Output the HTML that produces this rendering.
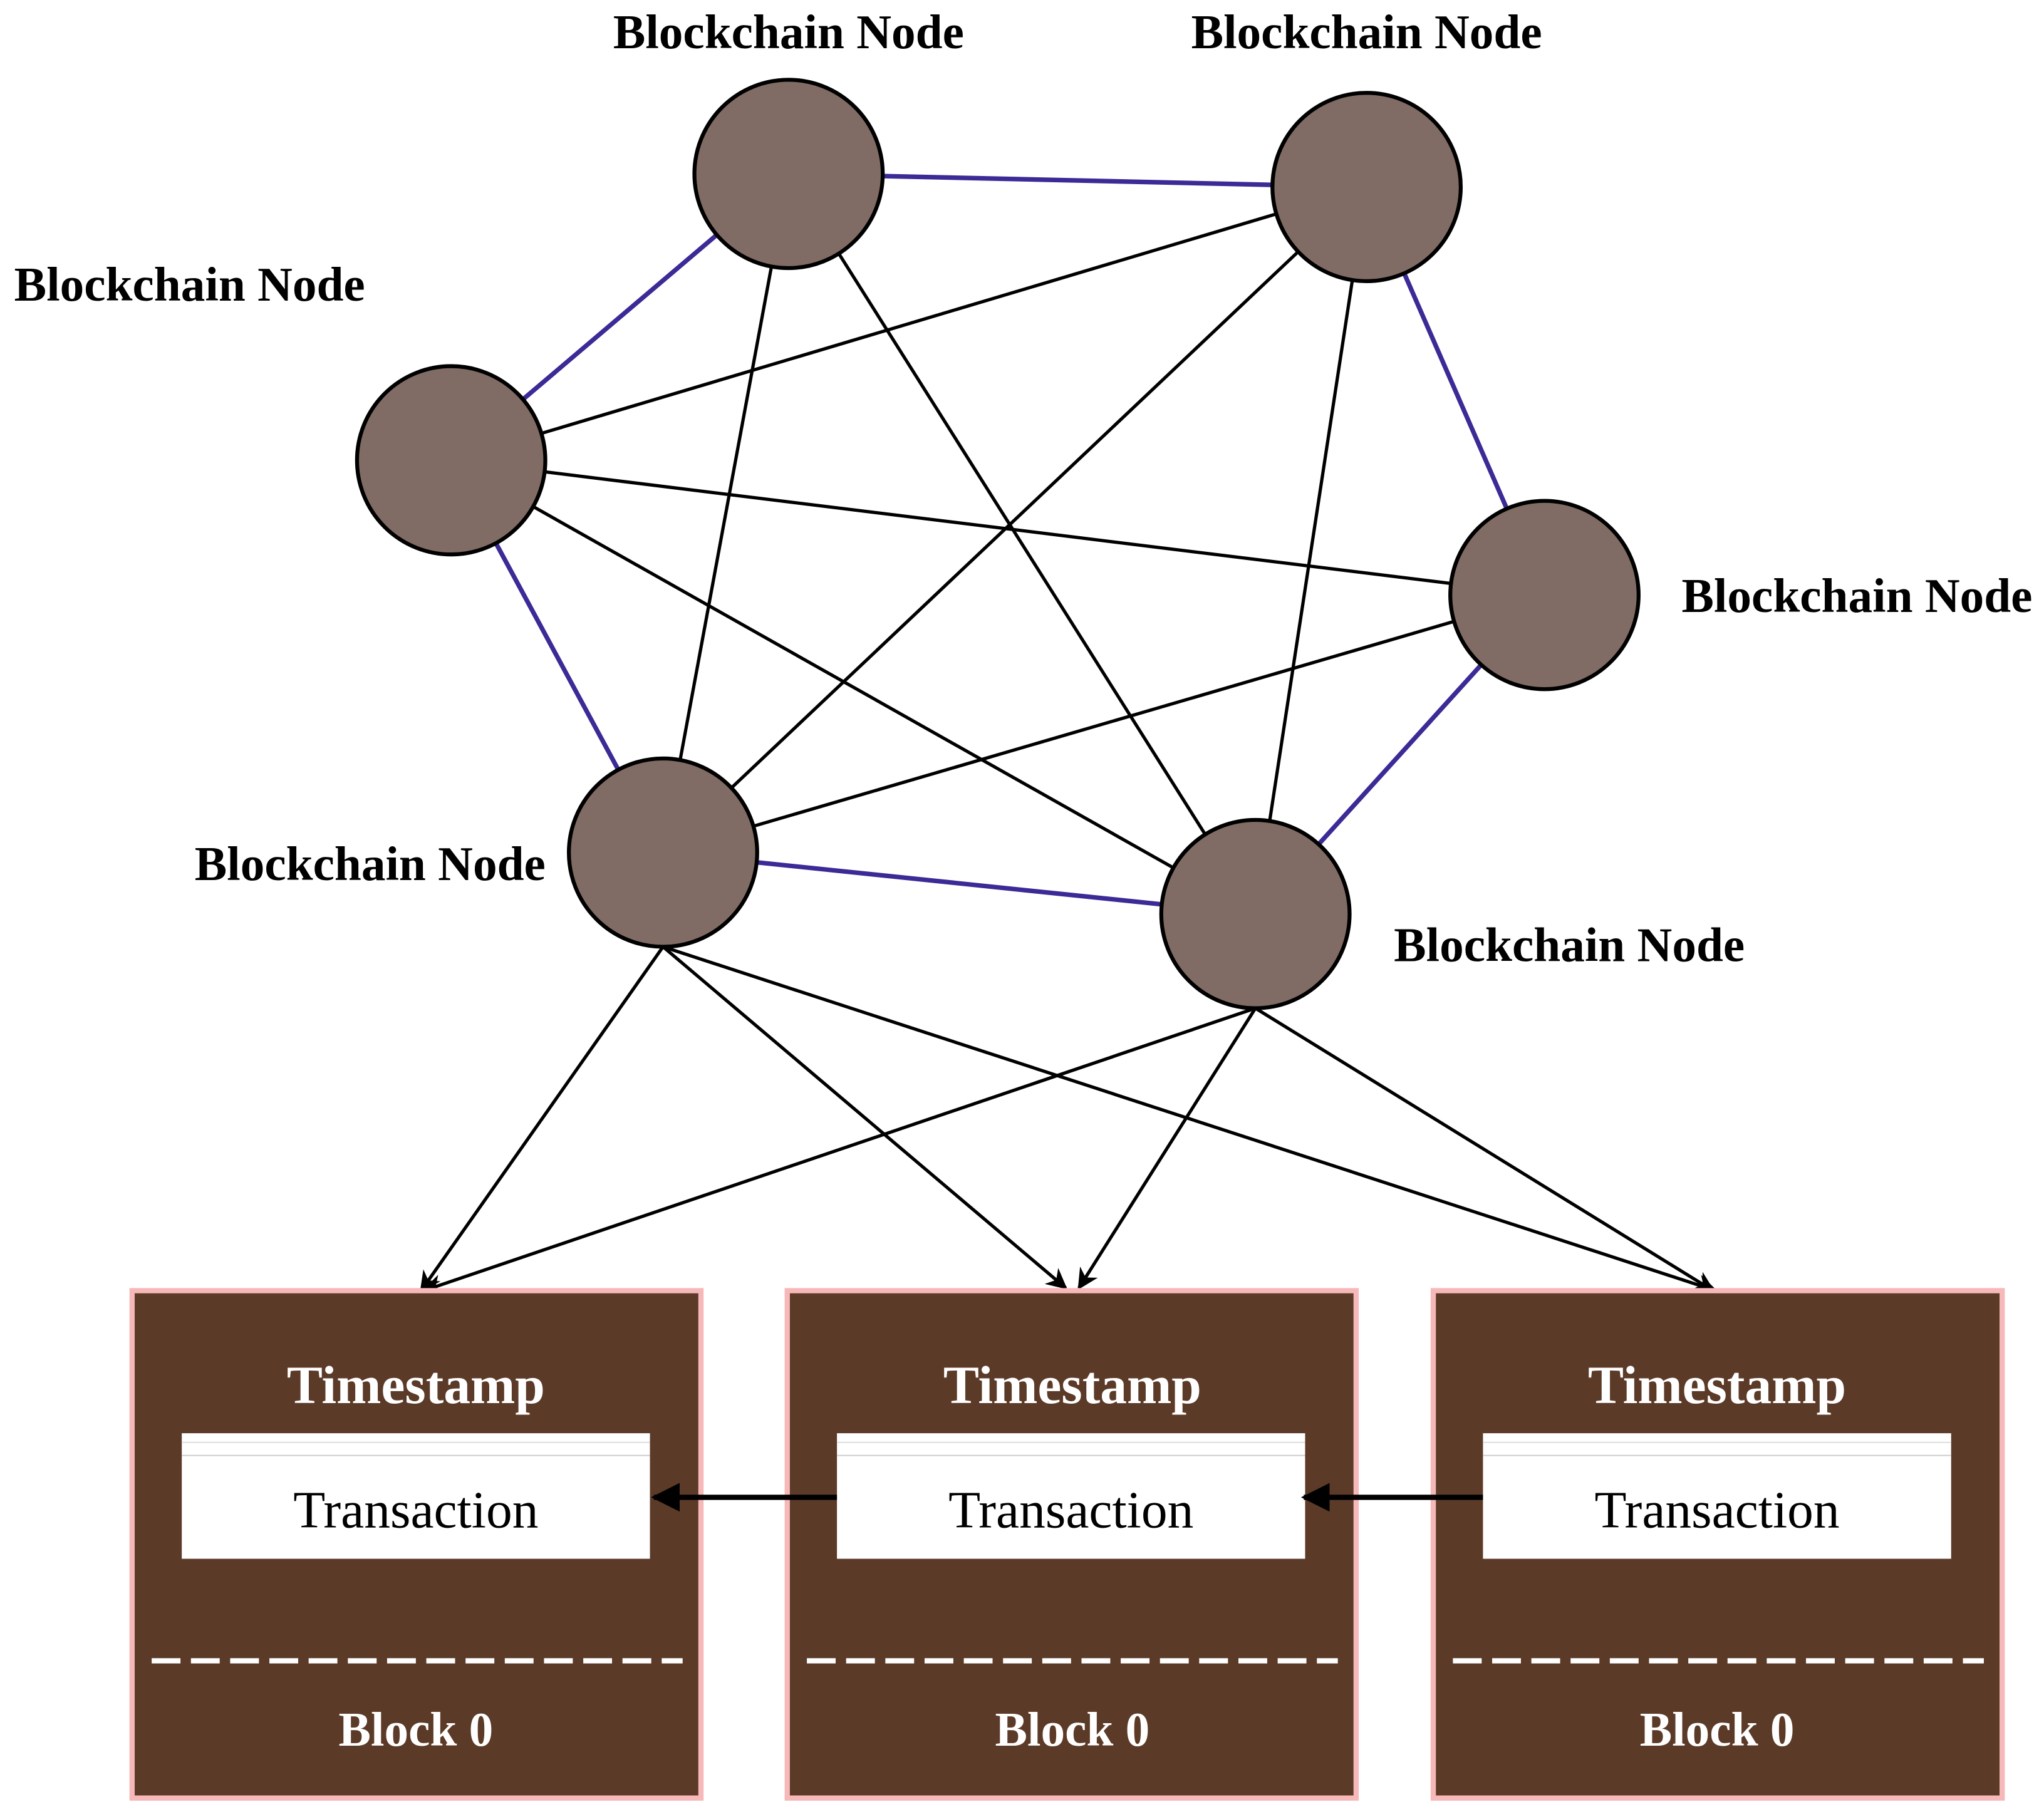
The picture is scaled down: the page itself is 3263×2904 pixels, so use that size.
<!DOCTYPE html>
<html><head><meta charset="utf-8"><style>html,body{margin:0;padding:0;background:#fff}svg{display:block}</style></head>
<body>
<svg width="3263" height="2904" viewBox="0 0 1563 1391" preserveAspectRatio="none" xmlns="http://www.w3.org/2000/svg">
<defs>
<marker id="a" viewBox="0 0 10 10" refX="9" refY="5" markerWidth="18" markerHeight="16" markerUnits="userSpaceOnUse" orient="auto"><path d="M0,0 L10,5 L0,10 L3,5 z" fill="#000"/></marker>
<marker id="b" viewBox="0 0 10 10" refX="9" refY="5" markerWidth="22" markerHeight="22" markerUnits="userSpaceOnUse" orient="auto"><path d="M0,0 L10,5 L0,10 z" fill="#000"/></marker>
</defs>
<g stroke="#3c2a96" stroke-width="3.5">
<line x1="603" y1="133" x2="1045" y2="143"/>
<line x1="603" y1="133" x2="345" y2="352"/>
<line x1="345" y1="352" x2="507" y2="652"/>
<line x1="507" y1="652" x2="960" y2="699"/>
<line x1="960" y1="699" x2="1181" y2="455"/>
<line x1="1181" y1="455" x2="1045" y2="143"/>
</g>
<g stroke="#000" stroke-width="2.5">
<line x1="345" y1="352" x2="1045" y2="143"/>
<line x1="345" y1="352" x2="1181" y2="455"/>
<line x1="345" y1="352" x2="960" y2="699"/>
<line x1="603" y1="133" x2="507" y2="652"/>
<line x1="603" y1="133" x2="960" y2="699"/>
<line x1="1045" y1="143" x2="507" y2="652"/>
<line x1="1045" y1="143" x2="960" y2="699"/>
<line x1="507" y1="652" x2="1181" y2="455"/>
</g>
<g fill="#806c64" stroke="#000" stroke-width="3">
<circle cx="603" cy="133" r="72"/>
<circle cx="1045" cy="143" r="72"/>
<circle cx="345" cy="352" r="72"/>
<circle cx="1181" cy="455" r="72"/>
<circle cx="507" cy="652" r="72"/>
<circle cx="960" cy="699" r="72"/>
</g>
<g font-family="Liberation Serif, serif" font-weight="bold" font-size="37" fill="#000" text-anchor="middle">
<text x="603" y="37">Blockchain Node</text>
<text x="1045" y="37">Blockchain Node</text>
<text x="145" y="230">Blockchain Node</text>
<text x="1420" y="468">Blockchain Node</text>
<text x="283" y="673">Blockchain Node</text>
<text x="1200" y="735">Blockchain Node</text>
</g>
<g stroke="#000" stroke-width="2.5" marker-end="url(#a)">
<line x1="507" y1="724" x2="322" y2="987"/>
<line x1="507" y1="724" x2="815" y2="985"/>
<line x1="507" y1="724" x2="1312" y2="987"/>
<line x1="960" y1="771" x2="324" y2="987"/>
<line x1="960" y1="771" x2="825" y2="985"/>
<line x1="960" y1="771" x2="1310" y2="987"/>
</g>
<g font-family="Liberation Serif, serif" text-anchor="middle">
<g>
<rect x="101" y="987" width="435" height="388" fill="#5c3a28" stroke="#f6b8b8" stroke-width="4"/>
<text x="318" y="1073" font-size="41" font-weight="bold" fill="#fff">Timestamp</text>
<rect x="139" y="1096" width="358" height="96" fill="#fff"/>
<line x1="139" y1="1103" x2="497" y2="1103" stroke="#ddd" stroke-width="1"/>
<line x1="139" y1="1113" x2="497" y2="1113" stroke="#ccc" stroke-width="1"/>
<text x="318" y="1168" font-size="40" fill="#000">Transaction</text>
<line x1="116" y1="1270" x2="522" y2="1270" stroke="#fff" stroke-width="4" stroke-dasharray="22,8"/>
<text x="318" y="1335" font-size="37" font-weight="bold" fill="#fff">Block 0</text>
</g>
<g>
<rect x="602" y="987" width="435" height="388" fill="#5c3a28" stroke="#f6b8b8" stroke-width="4"/>
<text x="820" y="1073" font-size="41" font-weight="bold" fill="#fff">Timestamp</text>
<rect x="640" y="1096" width="358" height="96" fill="#fff"/>
<line x1="640" y1="1103" x2="998" y2="1103" stroke="#ddd" stroke-width="1"/>
<line x1="640" y1="1113" x2="998" y2="1113" stroke="#ccc" stroke-width="1"/>
<text x="819" y="1168" font-size="40" fill="#000">Transaction</text>
<line x1="617" y1="1270" x2="1023" y2="1270" stroke="#fff" stroke-width="4" stroke-dasharray="22,8"/>
<text x="820" y="1335" font-size="37" font-weight="bold" fill="#fff">Block 0</text>
</g>
<g>
<rect x="1096" y="987" width="435" height="388" fill="#5c3a28" stroke="#f6b8b8" stroke-width="4"/>
<text x="1313" y="1073" font-size="41" font-weight="bold" fill="#fff">Timestamp</text>
<rect x="1134" y="1096" width="358" height="96" fill="#fff"/>
<line x1="1134" y1="1103" x2="1492" y2="1103" stroke="#ddd" stroke-width="1"/>
<line x1="1134" y1="1113" x2="1492" y2="1113" stroke="#ccc" stroke-width="1"/>
<text x="1313" y="1168" font-size="40" fill="#000">Transaction</text>
<line x1="1111" y1="1270" x2="1517" y2="1270" stroke="#fff" stroke-width="4" stroke-dasharray="22,8"/>
<text x="1313" y="1335" font-size="37" font-weight="bold" fill="#fff">Block 0</text>
</g>
</g>
<g stroke="#000" stroke-width="4" marker-end="url(#b)">
<line x1="640" y1="1145" x2="500" y2="1145"/>
<line x1="1134" y1="1145" x2="997" y2="1145"/>
</g>
</svg>
</body></html>
